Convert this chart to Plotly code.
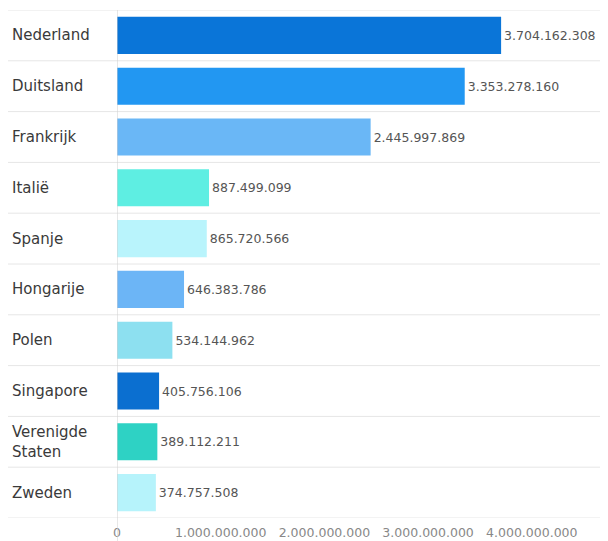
import plotly.graph_objects as go

countries = ["Nederland", "Duitsland", "Frankrijk", "Italië", "Spanje",
             "Hongarije", "Polen", "Singapore", "Verenigde<br>Staten", "Zweden"]
values = [3704162308, 3353278160, 2445997869, 887499099, 865720566,
          646383786, 534144962, 405756106, 389112211, 374757508]
colors = ["#0a75d8", "#2297f2", "#6ab7f6", "#5eeee2", "#b9f4fc",
          "#6cb5f6", "#8de0f0", "#0b6fd0", "#2ed2c4", "#b6f3fb"]
tick_vals = [0, 1e9, 2e9, 3e9, 4e9]

W, H = 600, 533
ml, mr, mt, mb = 109, 0, 2, 23
pw = W - ml - mr
ph = H - mt - mb

fig = go.Figure(go.Bar(
    y=countries, x=values, orientation="h",
    marker=dict(color=colors, line=dict(width=0)),
    text=values, texttemplate="%{x:,.0f}", textposition="outside",
    textfont=dict(family="DejaVu Sans", size=12.5, color="#555555"),
    cliponaxis=False, width=0.73,
))

shapes = []
for i in range(len(countries) + 1):
    shapes.append(dict(type="line", xref="paper", yref="y",
                       x0=(0 - ml) / pw, x1=1, y0=i - 0.5, y1=i - 0.5,
                       line=dict(color="#e6e6e6", width=1)))
shapes.append(dict(type="line", xref="x", yref="paper", x0=0, x1=0,
                   y0=-(mb + 5) / ph, y1=1,
                   line=dict(color="#d0d0d0", width=1)))

annotations = []
for c in countries:
    txt = c.replace("<br>", "<br><span style='font-size:3px'> </span><br>") if False else c
    annotations.append(dict(xref="paper", yref="y", x=0, y=c, xshift=-(ml - 2),
                            xanchor="left", yanchor="middle", text=txt, showarrow=False,
                            align="left",
                            font=dict(family="DejaVu Sans", size=15, color="#3a3a3a")))

fig.update_layout(
    width=W, height=H, margin=dict(l=ml, r=mr, t=mt, b=mb),
    paper_bgcolor="white", plot_bgcolor="white",
    separators=",.", showlegend=False,
    xaxis=dict(range=[0, 4.735e9], tickvals=tick_vals, tickformat=",.0f",
               showgrid=False, zeroline=False, showline=False, ticks="",
               ticklabelstandoff=5,
               tickfont=dict(family="DejaVu Sans", size=12.5, color="#888888")),
    yaxis=dict(showticklabels=False, showgrid=False,
               zeroline=False, showline=False, ticks="",
               range=[9.5, -0.5]),
    shapes=shapes, annotations=annotations,
)
fig.write_html("out.html")
